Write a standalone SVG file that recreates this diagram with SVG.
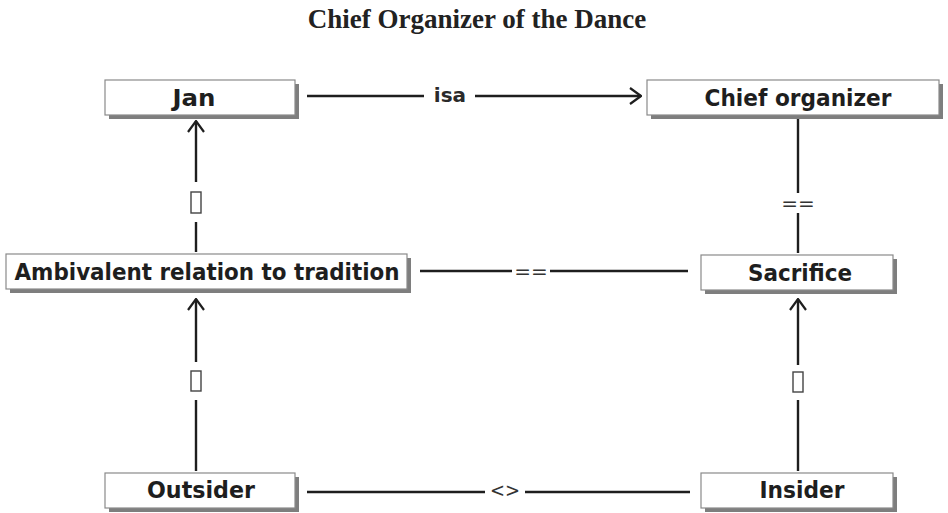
<svg xmlns="http://www.w3.org/2000/svg" width="948" height="513" viewBox="0 0 948 513">
  <style>
    .box { fill: #ffffff; stroke: #8a8a8a; stroke-width: 1.2; }
    .shadow { fill: #7e7e7e; }
    .label { font-family: "DejaVu Sans", "Liberation Sans", sans-serif; font-weight: bold; font-size: 23px; fill: #1e1e1e; text-anchor: middle; }
    .edge { stroke: #1e1e1e; stroke-width: 2.4; fill: none; }
    .elabel { font-family: "DejaVu Sans", "Liberation Sans", sans-serif; font-weight: bold; font-size: 20px; fill: #2a2a2a; text-anchor: middle; }
    .op { font-family: "DejaVu Sans", "Liberation Sans", sans-serif; font-size: 20px; fill: #333; text-anchor: middle; }
    .tag { fill: none; stroke: #444; stroke-width: 1.4; }
    .title { font-family: "Liberation Serif", serif; font-weight: bold; font-size: 27px; fill: #222; text-anchor: middle; }
  </style>
  <defs>
    <marker id="open" viewBox="0 0 13 18" refX="12" refY="9" markerWidth="13" markerHeight="18" markerUnits="userSpaceOnUse" orient="auto">
      <path d="M1 1 L12 9 L1 17" fill="none" stroke="#1e1e1e" stroke-width="2.2"/>
    </marker>
  </defs>
  <rect width="948" height="513" fill="#ffffff"/>

  <text class="title" x="477" y="28">Chief Organizer of the Dance</text>

  <g id="connectors">
    <!-- Jan isa Chief organizer -->
    <line class="edge" x1="307" y1="96" x2="424" y2="96"/>
    <text class="elabel" x="450" y="102">isa</text>
    <line class="edge" x1="475" y1="96" x2="641" y2="96" marker-end="url(#open)"/>
    <!-- Ambivalent -> Jan -->
    <line class="edge" x1="196" y1="252" x2="196" y2="222"/>
    <rect class="tag" x="191" y="192" width="10" height="21"/>
    <line class="edge" x1="196" y1="182" x2="196" y2="121" marker-end="url(#open)"/>
    <!-- Outsider -> Ambivalent -->
    <line class="edge" x1="196" y1="471" x2="196" y2="400"/>
    <rect class="tag" x="191" y="371" width="10" height="20"/>
    <line class="edge" x1="196" y1="362" x2="196" y2="299" marker-end="url(#open)"/>
    <!-- Insider -> Sacrifice -->
    <line class="edge" x1="798" y1="471" x2="798" y2="400"/>
    <rect class="tag" x="793" y="372" width="10" height="20"/>
    <line class="edge" x1="798" y1="365" x2="798" y2="299" marker-end="url(#open)"/>
    <!-- Chief organizer == Sacrifice -->
    <line class="edge" x1="798" y1="118" x2="798" y2="193"/>
    <text class="op" x="798" y="210">==</text>
    <line class="edge" x1="798" y1="213" x2="798" y2="253"/>
    <!-- Ambivalent == Sacrifice -->
    <line class="edge" x1="420" y1="271" x2="512" y2="271"/>
    <text class="op" x="531" y="278">==</text>
    <line class="edge" x1="550" y1="271" x2="688" y2="271"/>
    <!-- Outsider <> Insider -->
    <line class="edge" x1="307" y1="492" x2="485" y2="492"/>
    <text class="op" x="505" y="497" textLength="30" lengthAdjust="spacingAndGlyphs">&lt;&gt;</text>
    <line class="edge" x1="525" y1="492" x2="690" y2="492"/>
  </g>

  <g id="jan">
    <rect class="shadow" x="109" y="84" width="190" height="35"/>
    <rect class="box" x="105" y="80" width="190" height="35"/>
    <text class="label" x="194" y="106" textLength="43" lengthAdjust="spacingAndGlyphs">Jan</text>
  </g>
  <g id="chief-organizer">
    <rect class="shadow" x="651" y="84" width="292" height="35"/>
    <rect class="box" x="647" y="80" width="292" height="35"/>
    <text class="label" x="798" y="106" textLength="187" lengthAdjust="spacingAndGlyphs">Chief organizer</text>
  </g>
  <g id="ambivalent">
    <rect class="shadow" x="10" y="258" width="401" height="35"/>
    <rect class="box" x="6" y="254" width="401" height="35"/>
    <text class="label" x="207" y="280" textLength="385" lengthAdjust="spacingAndGlyphs">Ambivalent relation to tradition</text>
  </g>
  <g id="sacrifice">
    <rect class="shadow" x="705" y="259" width="192" height="35"/>
    <rect class="box" x="701" y="255" width="192" height="35"/>
    <text class="label" x="800" y="281" textLength="104" lengthAdjust="spacingAndGlyphs">Sacrifice</text>
  </g>
  <g id="outsider">
    <rect class="shadow" x="109" y="477" width="190" height="35"/>
    <rect class="box" x="105" y="473" width="190" height="35"/>
    <text class="label" x="201" y="498" textLength="108" lengthAdjust="spacingAndGlyphs">Outsider</text>
  </g>
  <g id="insider">
    <rect class="shadow" x="705" y="477" width="192" height="35"/>
    <rect class="box" x="701" y="473" width="192" height="35"/>
    <text class="label" x="802" y="498" textLength="85" lengthAdjust="spacingAndGlyphs">Insider</text>
  </g>
</svg>
